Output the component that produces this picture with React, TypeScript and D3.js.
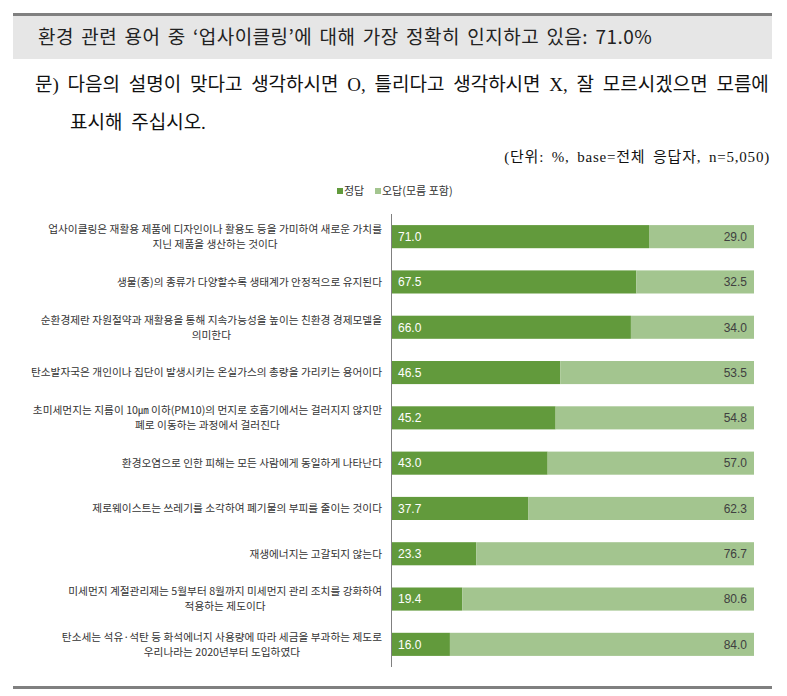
import React, { useEffect, useRef } from 'react'
import * as d3 from 'd3'

const categories: string[][] = [
  ['업사이클링은 재활용 제품에 디자인이나 활용도 등을 가미하여 새로운 가치를', '지닌 제품을 생산하는 것이다'],
  ['생물(종)의 종류가 다양할수록 생태계가 안정적으로 유지된다'],
  ['순환경제란 자원절약과 재활용을 통해 지속가능성을 높이는 친환경 경제모델을', '의미한다'],
  ['탄소발자국은 개인이나 집단이 발생시키는 온실가스의 총량을 가리키는 용어이다'],
  ['초미세먼지는 지름이 10㎛ 이하(PM10)의 먼지로 호흡기에서는 걸러지지 않지만', '폐로 이동하는 과정에서 걸러진다'],
  ['환경오염으로 인한 피해는 모든 사람에게 동일하게 나타난다'],
  ['제로웨이스트는 쓰레기를 소각하여 폐기물의 부피를 줄이는 것이다'],
  ['재생에너지는 고갈되지 않는다'],
  ['미세먼지 계절관리제는 5월부터 8월까지 미세먼지 관리 조치를 강화하여', '적용하는 제도이다'],
  ['탄소세는 석유·석탄 등 화석에너지 사용량에 따라 세금을 부과하는 제도로', '우리나라는 2020년부터 도입하였다'],
]
const correct = [71.0, 67.5, 66.0, 46.5, 45.2, 43.0, 37.7, 23.3, 19.4, 16.0]
const wrong = [29.0, 32.5, 34.0, 53.5, 54.8, 57.0, 62.3, 76.7, 80.6, 84.0]
const seriesNames = ['정답', '오답(모름 포함)']

const headline = '환경 관련 용어 중 ‘업사이클링’에 대해 가장 정확히 인지하고 있음: 71.0%'
const questionLines = [
  '문) 다음의 설명이 맞다고 생각하시면 O, 틀리다고 생각하시면 X, 잘 모르시겠으면 모름에',
  '표시해 주십시오.',
]
const unitNote = '(단위: %, base=전체 응답자, n=5,050)'

const DARK = '#629a3c'
const LIGHT = '#a3c58f'
const SANS = "'Noto Sans CJK KR', 'Liberation Sans', sans-serif"
const SERIF = "'Liberation Serif', 'Noto Sans CJK KR', serif"

export default function App() {
  const svgRef = useRef<SVGSVGElement>(null)

  useEffect(() => {
    document.body.style.margin = '0'
    if (!svgRef.current) return
    const svg = d3.select(svgRef.current)
    svg.selectAll('*').remove()

    const W = 787
    const H = 696

    svg.append('rect').attr('width', W).attr('height', H).attr('fill', '#fff')

    // header box
    svg.append('rect').attr('x', 13).attr('y', 16).attr('width', 759).attr('height', 43).attr('fill', '#e6e6e6')
    svg.append('rect').attr('x', 13).attr('y', 13).attr('width', 759).attr('height', 3).attr('fill', '#808080')
    svg.append('rect').attr('x', 13).attr('y', 686).attr('width', 759).attr('height', 3).attr('fill', '#808080')

    svg.append('text')
      .attr('x', 38).attr('y', 44)
      .attr('font-family', SANS).attr('font-size', 19).attr('fill', '#222')
      .attr('letter-spacing', 0.5).attr('word-spacing', 2.5)
      .text(headline)

    svg.append('text')
      .attr('x', 35).attr('y', 91)
      .attr('font-family', SERIF).attr('font-size', 19).attr('fill', '#111')
      .attr('word-spacing', 4)
      .text(questionLines[0])
    svg.append('text')
      .attr('x', 70).attr('y', 129)
      .attr('font-family', SERIF).attr('font-size', 19).attr('fill', '#111')
      .attr('word-spacing', 4)
      .text(questionLines[1])

    svg.append('text')
      .attr('x', 770).attr('y', 162).attr('text-anchor', 'end')
      .attr('font-family', SERIF).attr('font-size', 15).attr('fill', '#111')
      .attr('letter-spacing', 0.8).attr('word-spacing', 3)
      .text(unitNote)

    // legend
    const legend = svg.append('g').attr('font-family', SANS).attr('font-size', 11).attr('fill', '#333')
    const legendX = [337, 375]
    seriesNames.forEach((name, i) => {
      legend.append('rect').attr('x', legendX[i]).attr('y', 188).attr('width', 6).attr('height', 6)
        .attr('fill', i === 0 ? DARK : LIGHT)
      legend.append('text').attr('x', legendX[i] + 7).attr('y', 191).attr('dy', '0.35em').text(name)
    })

    const x = d3.scaleLinear().domain([0, 100]).range([392, 754])
    const y = d3.scaleBand<number>()
      .domain(d3.range(categories.length))
      .range([214, 667])
      .paddingInner(0.49)
      .paddingOuter(0.245)

    const rows = svg.append('g')
      .selectAll('g')
      .data(d3.range(categories.length))
      .join('g')

    rows.append('rect')
      .attr('x', x(0))
      .attr('y', (i) => y(i)!)
      .attr('width', (i) => x(correct[i]) - x(0))
      .attr('height', y.bandwidth())
      .attr('fill', DARK)

    rows.append('rect')
      .attr('x', (i) => x(correct[i]))
      .attr('y', (i) => y(i)!)
      .attr('width', (i) => x(correct[i] + wrong[i]) - x(correct[i]))
      .attr('height', y.bandwidth())
      .attr('fill', LIGHT)

    rows.append('text')
      .attr('x', x(0) + 6)
      .attr('y', (i) => y(i)! + y.bandwidth() / 2)
      .attr('dy', '0.36em')
      .attr('font-family', "'Liberation Sans', Arial, sans-serif")
      .attr('font-size', 12)
      .attr('fill', '#fff')
      .text((i) => correct[i].toFixed(1))

    rows.append('text')
      .attr('x', 747)
      .attr('y', (i) => y(i)! + y.bandwidth() / 2)
      .attr('dy', '0.36em')
      .attr('text-anchor', 'end')
      .attr('font-family', "'Liberation Sans', Arial, sans-serif")
      .attr('font-size', 12)
      .attr('fill', '#404040')
      .text((i) => wrong[i].toFixed(1))

    // category labels: block right-aligned, lines centered within block
    const labelRight = 382
    const lineGap = 15
    rows.each(function (i) {
      const g = d3.select(this)
      const lines = categories[i]
      const cy = y(i)! + y.bandwidth() / 2
      const texts = lines.map((line, k) =>
        g.append('text')
          .attr('y', cy + (k - (lines.length - 1) / 2) * lineGap)
          .attr('dy', '0.36em')
          .attr('font-family', SANS)
          .attr('font-size', 10.7)
          .attr('fill', '#333')
          .attr('text-anchor', 'middle')
          .text(line)
      )
      const widths = texts.map((t) => (t.node() as SVGTextElement).getComputedTextLength())
      const maxW = d3.max(widths) || 0
      texts.forEach((t) => t.attr('x', labelRight - maxW / 2))
    })

    // axis line
    svg.append('line')
      .attr('x1', 391.5).attr('x2', 391.5)
      .attr('y1', 214).attr('y2', 667)
      .attr('stroke', '#808080').attr('stroke-width', 1)
  }, [])

  return <svg ref={svgRef} width={787} height={696} style={{ display: 'block' }} />
}
